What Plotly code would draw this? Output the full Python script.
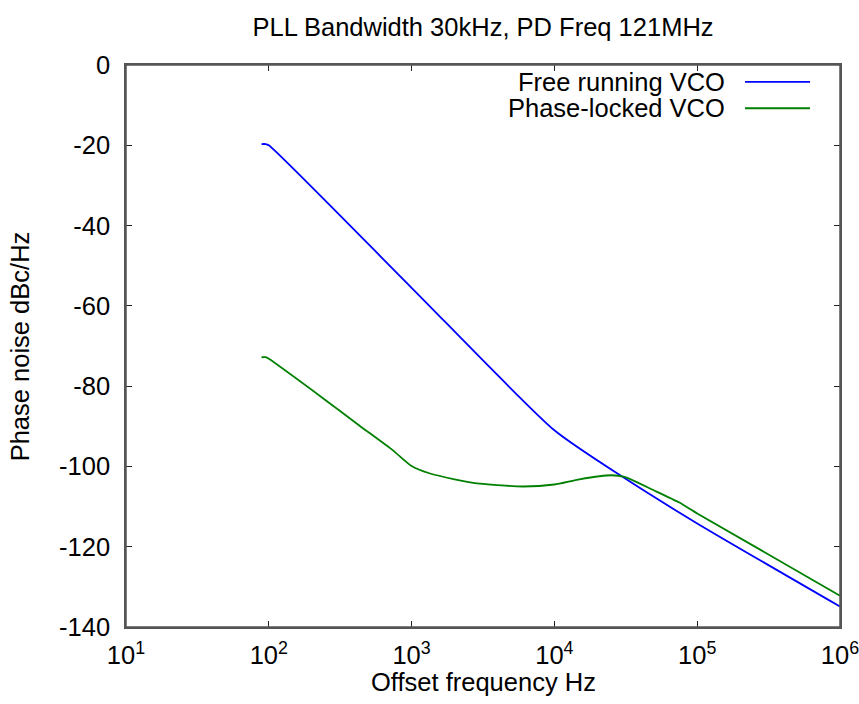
import plotly.graph_objects as go

# Data
free_freq = [89, 95, 100, 1000, 10000, 30000, 100000, 1000000]
free_pn = [-19.7, -19.7, -20.0, -55.5, -91.0, -102.6, -114.2, -134.9]

locked_freq = [89, 95, 100, 250, 430, 740, 1000, 1330, 2000, 3000, 6000, 10000,
               15000, 25000, 31000, 50000, 75000, 100000, 1000000]
locked_pn = [-72.8, -72.8, -73.2, -83.5, -89.8, -96.0, -99.9, -101.7, -103.2, -104.3,
             -105.0, -104.5, -103.2, -102.2, -102.6, -106.0, -109.0, -111.7, -132.2]

x_tickvals = [10, 100, 1000, 10000, 100000, 1000000]
x_ticktext = ["10<sup>1</sup>", "10<sup>2</sup>", "10<sup>3</sup>",
              "10<sup>4</sup>", "10<sup>5</sup>", "10<sup>6</sup>"]
y_tickvals = [0, -20, -40, -60, -80, -100, -120, -140]
y_ticktext = ["0", "-20", "-40", "-60", "-80", "-100", "-120", "-140"]

names = ["Free running VCO", "Phase-locked VCO"]
colors = ["#0000ff", "#008000"]

FONT = "Liberation Sans, Arial, Helvetica, sans-serif"
FS = 25.5

fig = go.Figure()
fig.add_trace(go.Scatter(x=free_freq, y=free_pn, mode="lines", name=names[0],
                         line=dict(color=colors[0], width=1.8, shape="spline", smoothing=0.6),
                         showlegend=False, cliponaxis=True))
fig.add_trace(go.Scatter(x=locked_freq, y=locked_pn, mode="lines", name=names[1],
                         line=dict(color=colors[1], width=1.8, shape="spline", smoothing=0.6),
                         showlegend=False, cliponaxis=True))

# plot frame
fig.add_shape(type="rect", xref="paper", yref="paper", x0=0, x1=1, y0=0, y1=1,
              line=dict(color="#555", width=1.5), layer="above")

# manual gnuplot-style legend (text right, sample line on the right)
legend_y = [0.970, 0.923]
for name, col, yy in zip(names, colors, legend_y):
    fig.add_annotation(x=0.842, y=yy, xref="paper", yref="paper", text=name,
                       showarrow=False, xanchor="right", yanchor="middle",
                       font=dict(size=FS, color="black", family=FONT))
    fig.add_shape(type="line", xref="paper", yref="paper", x0=0.867, x1=0.958,
                  y0=yy, y1=yy, line=dict(color=col, width=1.8))

# axis titles
fig.add_annotation(x=0.5, y=-0.097, xref="paper", yref="paper", text="Offset frequency Hz",
                   showarrow=False, xanchor="center", yanchor="middle",
                   font=dict(size=FS, color="black", family=FONT))
fig.add_annotation(x=-0.148, y=0.5, xref="paper", yref="paper", text="Phase noise dBc/Hz",
                   showarrow=False, xanchor="center", yanchor="middle", textangle=-90,
                   font=dict(size=FS, color="black", family=FONT))

fig.update_layout(
    width=859, height=704,
    margin=dict(l=126, r=19, t=65, b=77),
    paper_bgcolor="white", plot_bgcolor="white",
    font=dict(family=FONT, size=FS, color="black"),
    title=dict(text="PLL Bandwidth 30kHz, PD Freq 121MHz", x=0.5, xref="paper",
               xanchor="center", y=0.961, yanchor="middle", font=dict(size=FS)),
)
fig.update_xaxes(type="log", range=[1, 6.0001], tickvals=x_tickvals, ticktext=x_ticktext,
                 ticks="inside", ticklen=6, tickcolor="#222", showgrid=False,
                 showline=True, linecolor="#555", linewidth=1.5, mirror="ticks",
                 zeroline=False, tickfont=dict(size=FS), automargin=False,
                 ticklabelstandoff=5, ticklabeloverflow="allow")
fig.update_yaxes(range=[-140, 0], tickvals=y_tickvals, ticktext=y_ticktext,
                 ticks="inside", ticklen=6, tickcolor="#222", showgrid=False,
                 showline=True, linecolor="#555", linewidth=1.5, mirror="ticks",
                 zeroline=False, tickfont=dict(size=FS), ticklabelstandoff=9,
                 automargin=False, ticklabeloverflow="allow")

fig.write_html("out.html")
